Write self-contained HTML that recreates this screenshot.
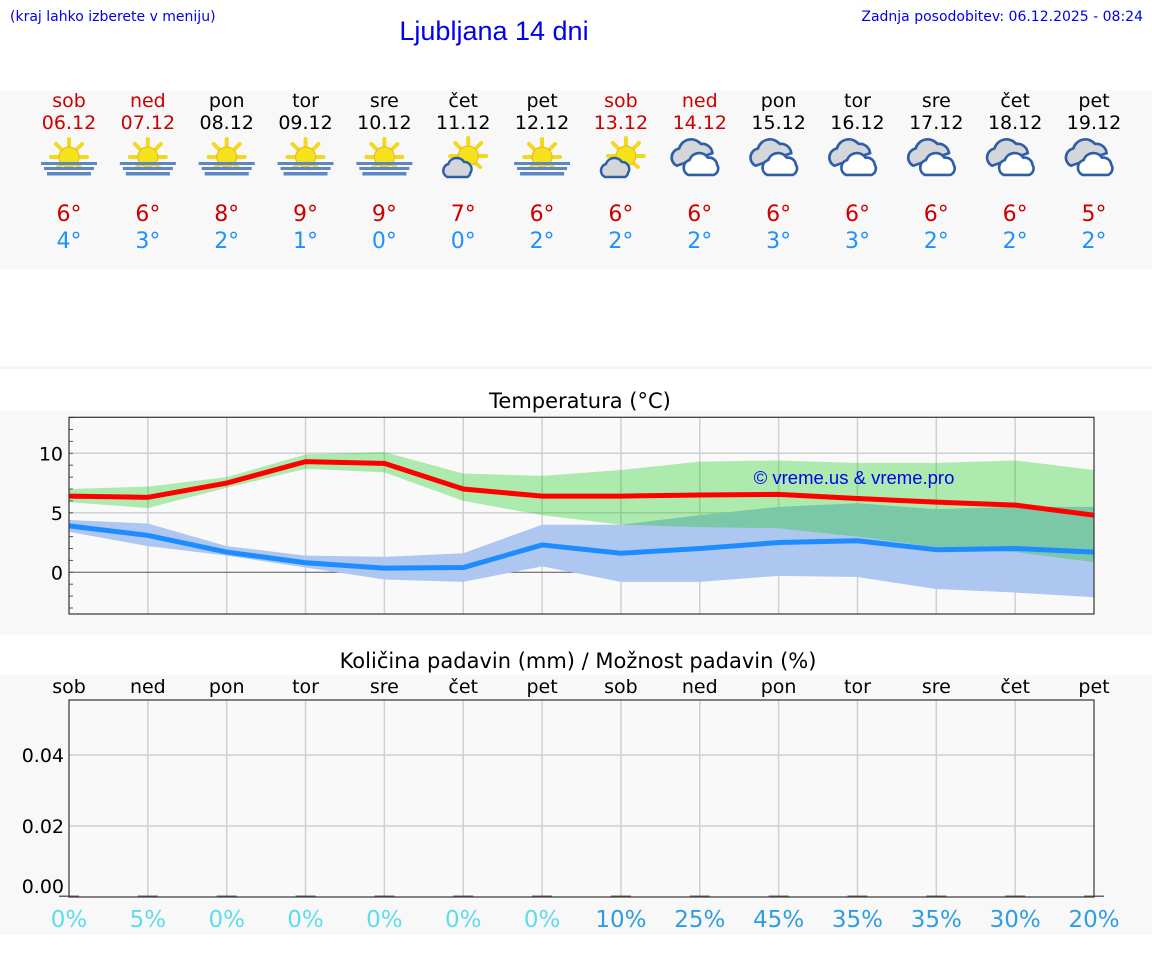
<!DOCTYPE html>
<html><head><meta charset="utf-8">
<style>
html,body{margin:0;padding:0;background:#fff;width:1152px;height:975px;overflow:hidden;font-family:"DejaVu Sans","Liberation Sans",sans-serif;}
svg{display:block;}
</style></head>
<body>
<svg width="1152" height="975" viewBox="0 0 1152 975" xmlns="http://www.w3.org/2000/svg">
<defs>
<g id="sun">
  <g stroke="#f4d81c" stroke-width="4" stroke-linecap="round">
    <line x1="0" y1="-10" x2="0" y2="-18"/><line x1="7" y1="-7" x2="13" y2="-13"/><line x1="10" y1="0" x2="18" y2="0"/>
    <line x1="-7" y1="-7" x2="-13" y2="-13"/><line x1="-10" y1="0" x2="-18" y2="0"/><line x1="7" y1="7" x2="12" y2="11"/><line x1="-7" y1="7" x2="-12" y2="11"/>
  </g>
  <circle r="10" fill="#f4e21c" stroke="#f0b020" stroke-width="1"/>
</g>
<g id="sunfog">
  <use href="#sun" transform="translate(0,-3)"/>
  <rect x="-28" y="2" width="56" height="3" fill="#5c86c4"/>
  <rect x="-25" y="7" width="50" height="3" fill="#5c86c4"/>
  <rect x="-22" y="12" width="44" height="3.5" fill="#5c86c4"/>
</g>
<g id="cloud1">
  <path d="M-10,8 a7,7 0 0 1 1,-13 a9,9 0 0 1 16,-2 a7,7 0 0 1 6,11 a5,5 0 0 1 -3,4 z" fill="#d4d6da" stroke="#2e5ea8" stroke-width="2.5"/>
</g>
<g id="suncloud">
  <use href="#sun" transform="translate(5,-4)"/>
  <use href="#cloud1" transform="translate(-6,9)"/>
</g>
<g id="clouds">
  <g transform="scale(1.15)">
  <path d="M-20,5 a8,8 0 0 1 2,-15 a11,11 0 0 1 19,-4 a9,9 0 0 1 10,8 z" fill="#d4d6da" stroke="#2e5ea8" stroke-width="2.3"/>
  <path d="M-10,13 a7,7 0 0 1 1,-13 a9,9 0 0 1 16,-2 a7,7 0 0 1 8,6 a6,6 0 0 1 -3,9 z" fill="#fff" stroke="#2e5ea8" stroke-width="2.3"/>
  </g>
</g>
</defs>

<text x="10" y="21" font-size="14" fill="#0000ee">(kraj lahko izberete v meniju)</text>
<text x="494" y="40" font-size="27" fill="#0000ee" text-anchor="middle" font-family="Liberation Sans, sans-serif">Ljubljana 14 dni</text>
<text x="1143" y="21" font-size="14" fill="#0000ee" text-anchor="end">Zadnja posodobitev: 06.12.2025 - 08:24</text>

<rect x="0" y="90" width="1152" height="180" fill="#f8f8f8"/>
<g id="days"></g>

<rect x="0" y="366" width="1152" height="3" fill="#f6f6f6"/>
<rect x="0" y="410" width="1152" height="225" fill="#f8f8f8"/>
<text x="580" y="408" font-size="21" text-anchor="middle" fill="#000">Temperatura (°C)</text>
<g id="temp"></g>

<rect x="0" y="675" width="1152" height="260" fill="#f8f8f8"/>
<text x="578" y="668" font-size="21" text-anchor="middle" fill="#000">Količina padavin (mm) / Možnost padavin (%)</text>
<g id="precip"></g>
</svg>
<script>
const dayNames=["sob","ned","pon","tor","sre","čet","pet","sob","ned","pon","tor","sre","čet","pet"];
const dates=["06.12","07.12","08.12","09.12","10.12","11.12","12.12","13.12","14.12","15.12","16.12","17.12","18.12","19.12"];
const weekend=[1,1,0,0,0,0,0,1,1,0,0,0,0,0];
const icons=["sunfog","sunfog","sunfog","sunfog","sunfog","suncloud","sunfog","suncloud","clouds","clouds","clouds","clouds","clouds","clouds"];
const maxT=[6,6,8,9,9,7,6,6,6,6,6,6,6,5];
const minT=[4,3,2,1,0,0,2,2,2,3,3,2,2,2];
const maxLine=[6.4,6.3,7.5,9.3,9.15,7.0,6.4,6.4,6.5,6.55,6.2,5.9,5.65,4.8];
const maxHi=[7.0,7.2,8.0,9.9,10.1,8.3,8.1,8.6,9.3,9.4,9.2,9.2,9.4,8.6];
const maxLo=[5.9,5.4,7.1,8.7,8.4,6.0,4.8,4.0,3.8,3.7,3.0,2.1,1.7,0.85];
const minLine=[3.9,3.1,1.7,0.8,0.35,0.4,2.3,1.6,2.0,2.5,2.65,1.9,2.0,1.7];
const minHi=[4.4,4.1,2.2,1.4,1.3,1.6,4.0,4.0,4.8,5.5,5.8,5.3,5.5,5.5];
const minLo=[3.4,2.2,1.4,0.4,-0.6,-0.8,0.5,-0.8,-0.8,-0.3,-0.4,-1.4,-1.7,-2.1];
const tempTicks=[0,5,10];
const precip=[0,0,0,0,0,0,0,0,0,0,0,0,0,0];
const precipTicks=[0,0.02,0.04];
const chance=[0,5,0,0,0,0,0,10,25,45,35,35,30,20];

const NS="http://www.w3.org/2000/svg";
function mk(tag,attrs,parent,txt){const e=document.createElementNS(NS,tag);for(const k in attrs)e.setAttribute(k,attrs[k]);if(txt!==undefined)e.textContent=txt;parent.appendChild(e);return e;}
const X0=69,X1=1094;
const xs=i=>X0+(X1-X0)*i/(dayNames.length-1);
const yT=v=>572.3-11.9*v;
const yP=v=>897-71*v/0.02;

const gd=document.getElementById('days');
dayNames.forEach((d,i)=>{
  const x=xs(i);const c=weekend[i]?"#cc0000":"#000";
  let t=mk('text',{x:x,y:107,'font-size':19,'text-anchor':'middle',fill:c},gd,d);
  
  
  t=mk('text',{x:x,y:129,'font-size':19,'text-anchor':'middle',fill:c},gd,dates[i]);
  
  
  const u=mk('use',{href:'#'+icons[i],transform:`translate(${x},160)`},gd);
  
  
  t=mk('text',{x:x,y:221,'font-size':22,'text-anchor':'middle',fill:'#cc0000'},gd,maxT[i]+'°');
  
  
  t=mk('text',{x:x,y:248,'font-size':22,'text-anchor':'middle',fill:'#1e90ff'},gd,minT[i]+'°');
  
  
});

const gt=document.getElementById('temp');
const TT=417.3,TB=614;
mk('rect',{x:X0,y:TT,width:X1-X0,height:TB-TT,fill:'#f9f9f9'},gt);
dayNames.forEach((d,i)=>{if(i>0&&i<dayNames.length-1)mk('line',{x1:xs(i),x2:xs(i),y1:TT,y2:TB,stroke:'#d0d0d0','stroke-width':1.5},gt);});
tempTicks.forEach(v=>{
  mk('line',{x1:X0,x2:X1,y1:yT(v),y2:yT(v),stroke:v===0?'#555':'#d0d0d0','stroke-width':v===0?1:1.5},gt);
  const t=mk('text',{x:63,y:yT(v)+7,'font-size':19,'text-anchor':'end',fill:'#000'},gt,String(v));
  
  
});
for(let v=-3;v<=13;v++){mk('line',{x1:X0,x2:X0+4,y1:yT(v),y2:yT(v),stroke:'#555','stroke-width':1},gt);}
function band(hi,lo,fill,op,name){
  let d='M'+hi.map((v,i)=>xs(i)+','+yT(v)).join(' L')+' L'+lo.map((v,i)=>xs(i)+','+yT(v)).reverse().join(' L')+' Z';
  const p=mk('path',{d:d,fill:fill,'fill-opacity':op},gt);
  
  
}
function line(arr,col,name){
  const p=mk('polyline',{points:arr.map((v,i)=>xs(i)+','+yT(v)).join(' '),fill:'none',stroke:col,'stroke-width':5,'stroke-linejoin':'round'},gt);
  
  
}
band(minHi,minLo,'#aec7f0',1,'min-temp-band');
band(maxHi,maxLo,'rgb(12,203,12)',0.32,'max-temp-band');
line(minLine,'#1e8cff','min-temp-line');
line(maxLine,'#ff0000','max-temp-line');
mk('rect',{x:X0,y:TT,width:X1-X0,height:TB-TT,fill:'none',stroke:'#333','stroke-width':1.2},gt);
let wm=mk('text',{x:854,y:484,'font-size':18.5,'text-anchor':'middle',fill:'#0000ee',"font-family":"Liberation Sans, sans-serif"},gt,'© vreme.us & vreme.pro');



const gp=document.getElementById('precip');
const PT=700,PB=897;
mk('rect',{x:X0,y:PT,width:X1-X0,height:PB-PT,fill:'#f9f9f9'},gp);
dayNames.forEach((d,i)=>{
  if(i>0&&i<dayNames.length-1)mk('line',{x1:xs(i),x2:xs(i),y1:PT,y2:PB,stroke:'#d0d0d0','stroke-width':1.5},gp);
  let t=mk('text',{x:xs(i),y:693,'font-size':19,'text-anchor':'middle',fill:'#000'},gp,d);
  
  
  const b=mk('rect',{x:xs(i)-10,y:yP(precip[i])-1.5,width:20,height:Math.max(1.5,PB-yP(precip[i])+1.5),fill:'#666'},gp);
  
  
  t=mk('text',{x:xs(i),y:927,'font-size':23,'text-anchor':'middle',fill:chance[i]>=10?'#2e9ee0':'#5fdcec'},gp,chance[i]+'%');
  
  
});
precipTicks.forEach(v=>{
  if(v>0)mk('line',{x1:X0,x2:X1,y1:yP(v),y2:yP(v),stroke:'#d0d0d0','stroke-width':1.5},gp);
  const t=mk('text',{x:64,y:(v===0?yP(v)-4:yP(v)+7),'font-size':19,'text-anchor':'end',fill:'#000'},gp,v.toFixed(2));
  
  
});
mk('rect',{x:X0,y:PT,width:X1-X0,height:PB-PT,fill:'none',stroke:'#333','stroke-width':1.2},gp);
</script>
</body></html>
